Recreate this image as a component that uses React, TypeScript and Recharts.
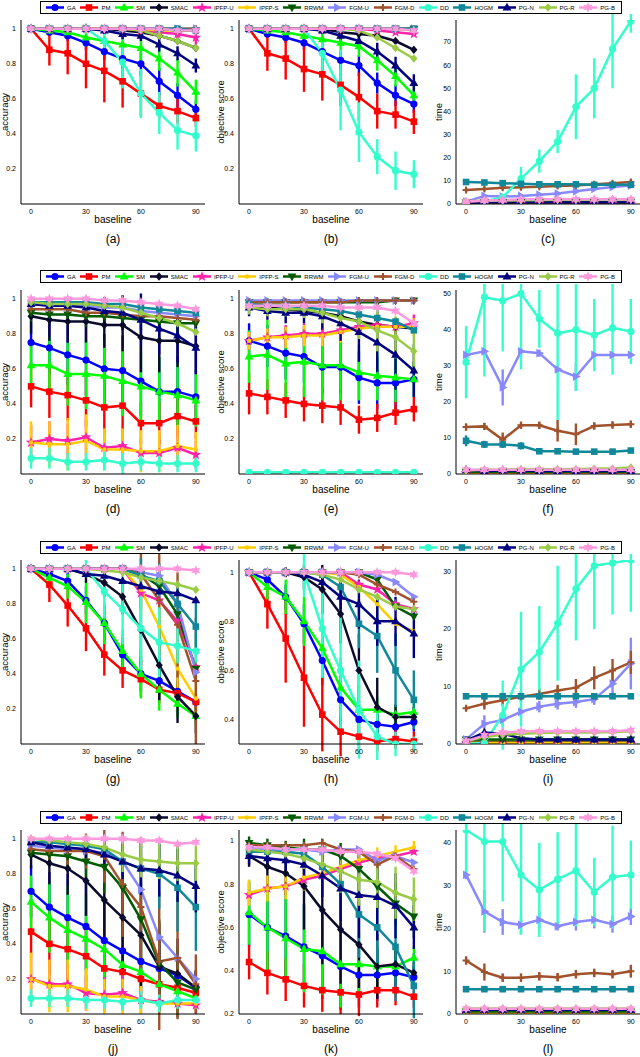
import React from 'react'
import { LineChart, Line, XAxis, YAxis, ErrorBar } from 'recharts'

// x positions shared by every panel
const X_VALUES = [0, 10, 20, 30, 40, 50, 60, 70, 80, 90]
const X_TICKS = [0, 30, 60, 90]
const ACC_TICKS = [0.2, 0.4, 0.6, 0.8, 1]
const OBJ_TICKS_H = [0.4, 0.6, 0.8, 1]
const TIME_TICKS_C = [0, 10, 20, 30, 40, 50, 60, 70]
const TIME_TICKS_F = [0, 10, 20, 30, 40, 50]
const TIME_TICKS_I = [0, 10, 20, 30]
const TIME_TICKS_L = [0, 10, 20, 30, 40]

const METHODS = ['GA', 'PM', 'SM', 'SMAC', 'IPFP-U', 'IPFP-S', 'RRWM', 'FGM-U', 'FGM-D', 'DD', 'HOGM', 'PG-N', 'PG-R', 'PG-B']

const METHOD_COLORS: Record<string, string> = {
  GA: '#0000ff',
  PM: '#ff0000',
  SM: '#00ff00',
  SMAC: '#0a0a2a',
  'IPFP-U': '#ff22aa',
  'IPFP-S': '#ffcc00',
  RRWM: '#005a00',
  'FGM-U': '#8888ff',
  'FGM-D': '#a0522d',
  DD: '#33ffcc',
  HOGM: '#118899',
  'PG-N': '#000080',
  'PG-R': '#99cc44',
  'PG-B': '#ff99dd',
}

const METHOD_MARKERS: Record<string, string> = {
  GA: 'circle',
  PM: 'square',
  SM: 'triangle',
  SMAC: 'diamond',
  'IPFP-U': 'star5',
  'IPFP-S': 'dot',
  RRWM: 'triangleDown',
  'FGM-U': 'triangleRight',
  'FGM-D': 'plus',
  DD: 'circle',
  HOGM: 'square',
  'PG-N': 'triangle',
  'PG-R': 'diamond',
  'PG-B': 'star6',
}

// (a) accuracy
const VALUES_A: Record<string, number[]> = {
  GA: [1, 0.98, 0.96, 0.92, 0.87, 0.83, 0.8, 0.7, 0.62, 0.54],
  PM: [1, 0.88, 0.86, 0.8, 0.76, 0.7, 0.63, 0.56, 0.53, 0.49],
  SM: [1, 0.99, 0.98, 0.95, 0.93, 0.91, 0.89, 0.83, 0.75, 0.64],
  SMAC: [1, 1, 1, 1, 1, 0.99, 0.98, 0.96, 0.93, 0.89],
  'IPFP-U': [1, 1, 1, 1, 1, 1, 0.99, 0.98, 0.97, 0.95],
  'IPFP-S': [1, 1, 1, 1, 1, 1, 1, 0.99, 0.99, 0.99],
  RRWM: [1, 1, 1, 1, 1, 1, 1, 1, 0.99, 0.99],
  'FGM-U': [1, 1, 1, 1, 1, 1, 1, 1, 1, 1],
  'FGM-D': [1, 1, 1, 1, 1, 1, 1, 1, 1, 1],
  DD: [1, 1, 1, 1, 0.93, 0.81, 0.63, 0.52, 0.42, 0.39],
  HOGM: [1, 1, 1, 1, 1, 1, 1, 1, 1, 0.99],
  'PG-N': [1, 1, 1, 1, 0.99, 0.97, 0.96, 0.91, 0.86, 0.79],
  'PG-R': [1, 1, 1, 1, 1, 1, 0.99, 0.96, 0.93, 0.89],
  'PG-B': [1, 1, 1, 1, 1, 1, 1, 1, 0.99, 0.99],
}
const ERRORS_A: Record<string, number[]> = {
  GA: [0, 0.02, 0.03, 0.04, 0.05, 0.06, 0.07, 0.08, 0.07, 0.05],
  PM: [0, 0.09, 0.12, 0.14, 0.18, 0.15, 0.13, 0.07, 0.07, 0.05],
  SM: [0, 0.02, 0.03, 0.05, 0.06, 0.07, 0.08, 0.07, 0.08, 0.07],
  DD: [0, 0, 0, 0.03, 0.05, 0.15, 0.14, 0.12, 0.11, 0.09],
  'PG-N': [0, 0, 0, 0.01, 0.02, 0.03, 0.03, 0.04, 0.04, 0.04],
  'IPFP-U': [0, 0, 0, 0.01, 0.02, 0.02, 0.02, 0.04, 0.04, 0.04],
}

// (b) objective score
const VALUES_B: Record<string, number[]> = {
  GA: [1, 0.97, 0.95, 0.92, 0.87, 0.82, 0.79, 0.69, 0.62, 0.57],
  PM: [1, 0.86, 0.83, 0.77, 0.74, 0.68, 0.61, 0.53, 0.51, 0.47],
  SM: [1, 0.99, 0.98, 0.96, 0.94, 0.92, 0.9, 0.82, 0.73, 0.62],
  SMAC: [1, 1, 1, 1, 1, 0.98, 0.97, 0.96, 0.93, 0.88],
  'IPFP-U': [1, 1, 1, 1, 1, 1, 1, 0.99, 0.98, 0.97],
  'IPFP-S': [1, 1, 1, 1, 1, 1, 1, 1, 1, 0.99],
  RRWM: [1, 1, 1, 1, 1, 1, 1, 1, 1, 1],
  'FGM-U': [1, 1, 1, 1, 1, 1, 1, 1, 1, 1],
  'FGM-D': [1, 1, 1, 1, 1, 1, 1, 1, 1, 1],
  DD: [1, 1, 1, 1, 0.86, 0.65, 0.41, 0.27, 0.19, 0.17],
  HOGM: [1, 1, 1, 1, 1, 1, 1, 1, 1, 1],
  'PG-N': [1, 1, 1, 1, 0.99, 0.96, 0.93, 0.87, 0.79, 0.69],
  'PG-R': [1, 1, 1, 1, 1, 1, 0.99, 0.95, 0.89, 0.83],
  'PG-B': [1, 1, 1, 1, 1, 1, 1, 1, 1, 0.99],
}
const ERRORS_B: Record<string, number[]> = {
  GA: [0, 0.02, 0.03, 0.04, 0.05, 0.05, 0.06, 0.06, 0.06, 0.05],
  PM: [0, 0.1, 0.12, 0.13, 0.15, 0.12, 0.14, 0.1, 0.08, 0.07],
  SM: [0, 0.01, 0.02, 0.03, 0.04, 0.05, 0.06, 0.06, 0.06, 0.06],
  DD: [0, 0, 0, 0.02, 0.1, 0.23, 0.17, 0.1, 0.11, 0.08],
  'PG-N': [0, 0, 0, 0.01, 0.02, 0.03, 0.04, 0.05, 0.05, 0.05],
}

// (c) time
const VALUES_C: Record<string, number[]> = {
  GA: [0.2, 0.2, 0.3, 0.3, 0.3, 0.3, 0.3, 0.3, 0.3, 0.3],
  PM: [0.1, 0.1, 0.1, 0.1, 0.1, 0.1, 0.1, 0.1, 0.1, 0.1],
  SM: [0.1, 0.1, 0.1, 0.1, 0.1, 0.1, 0.1, 0.1, 0.1, 0.1],
  SMAC: [0.4, 0.5, 0.5, 0.5, 0.6, 0.6, 0.6, 0.6, 0.6, 0.7],
  'IPFP-U': [0.2, 0.2, 0.2, 0.2, 0.2, 0.2, 0.2, 0.2, 0.2, 0.2],
  'IPFP-S': [0.3, 0.3, 0.3, 0.3, 0.3, 0.3, 0.3, 0.3, 0.3, 0.3],
  RRWM: [0.8, 0.8, 0.9, 0.9, 0.9, 0.9, 0.9, 0.9, 0.9, 1],
  'FGM-U': [1, 3.5, 3.2, 3.5, 4, 4.5, 5.5, 6.5, 7.3, 8],
  'FGM-D': [6, 6.5, 7, 7.2, 7.5, 7.8, 8, 8.5, 9, 9.5],
  DD: [0.3, 1, 3, 11, 18.5, 27, 42, 50, 67, 79],
  HOGM: [9.5, 9.3, 9, 8.7, 8.5, 8.5, 8.5, 8.3, 8.3, 8.3],
  'PG-N': [0.5, 0.6, 0.6, 0.6, 0.6, 0.6, 0.6, 0.6, 0.6, 0.6],
  'PG-R': [1.2, 1.4, 1.5, 1.6, 1.7, 1.8, 1.8, 1.9, 2, 2],
  'PG-B': [1, 1.5, 1.7, 2, 2, 2, 2, 2, 2, 2],
}
const ERRORS_C: Record<string, number[]> = {
  DD: [0.3, 0.5, 1, 5, 5, 5, 14, 13, 17, 5],
  'FGM-D': [1, 1, 1, 1, 1, 1, 1, 1, 1, 1.2],
}

// (d) accuracy
const VALUES_D: Record<string, number[]> = {
  GA: [0.75, 0.72, 0.68, 0.65, 0.6, 0.59, 0.53, 0.47, 0.47, 0.44],
  PM: [0.5, 0.47, 0.45, 0.42, 0.38, 0.39, 0.29, 0.29, 0.33, 0.3],
  SM: [0.62, 0.62, 0.57, 0.57, 0.56, 0.53, 0.5, 0.47, 0.45, 0.42],
  SMAC: [0.9, 0.88, 0.87, 0.87, 0.85, 0.85, 0.78, 0.76, 0.76, 0.73],
  'IPFP-U': [0.18, 0.2, 0.19, 0.21, 0.15, 0.16, 0.12, 0.12, 0.15, 0.11],
  'IPFP-S': [0.18, 0.17, 0.17, 0.19, 0.14, 0.14, 0.13, 0.13, 0.16, 0.14],
  RRWM: [0.92, 0.91, 0.91, 0.9, 0.9, 0.89, 0.88, 0.87, 0.86, 0.86],
  'FGM-U': [0.97, 0.96, 0.96, 0.96, 0.95, 0.95, 0.93, 0.92, 0.91, 0.9],
  'FGM-D': [0.94, 0.94, 0.94, 0.92, 0.92, 0.91, 0.9, 0.9, 0.89, 0.88],
  DD: [0.09, 0.09, 0.07, 0.07, 0.08, 0.06, 0.07, 0.06, 0.06, 0.06],
  HOGM: [0.98, 0.98, 0.98, 0.98, 0.97, 0.97, 0.95, 0.94, 0.93, 0.92],
  'PG-N': [0.97, 0.96, 0.96, 0.95, 0.93, 0.92, 0.88, 0.83, 0.79, 0.72],
  'PG-R': [0.98, 0.97, 0.97, 0.97, 0.96, 0.95, 0.92, 0.89, 0.86, 0.81],
  'PG-B': [1, 1, 1, 1, 0.99, 0.99, 0.98, 0.97, 0.96, 0.94],
}
const ERRORS_D: Record<string, number[]> = {
  GA: [0.12, 0.15, 0.17, 0.2, 0.2, 0.2, 0.2, 0.2, 0.2, 0.15],
  PM: [0.12, 0.15, 0.15, 0.15, 0.15, 0.15, 0.12, 0.12, 0.12, 0.1],
  SM: [0.13, 0.16, 0.18, 0.2, 0.2, 0.2, 0.2, 0.2, 0.18, 0.15],
  SMAC: [0.1, 0.12, 0.12, 0.12, 0.13, 0.15, 0.2, 0.18, 0.15, 0.15],
  'IPFP-U': [0.1, 0.1, 0.1, 0.1, 0.08, 0.08, 0.08, 0.08, 0.1, 0.08],
  'IPFP-S': [0.12, 0.13, 0.15, 0.15, 0.12, 0.12, 0.12, 0.12, 0.12, 0.1],
  RRWM: [0.05, 0.05, 0.05, 0.06, 0.06, 0.06, 0.06, 0.06, 0.06, 0.06],
  DD: [0.06, 0.06, 0.05, 0.05, 0.06, 0.06, 0.05, 0.05, 0.05, 0.05],
  'PG-N': [0.04, 0.05, 0.05, 0.06, 0.08, 0.1, 0.15, 0.15, 0.15, 0.15],
}

// (e) objective score
const VALUES_E: Record<string, number[]> = {
  GA: [0.76, 0.73, 0.69, 0.67, 0.61, 0.61, 0.55, 0.52, 0.52, 0.54],
  PM: [0.46, 0.44, 0.42, 0.4, 0.39, 0.38, 0.31, 0.32, 0.35, 0.37],
  SM: [0.67, 0.68, 0.63, 0.64, 0.62, 0.62, 0.58, 0.56, 0.55, 0.54],
  SMAC: [0.96, 0.95, 0.94, 0.93, 0.92, 0.9, 0.87, 0.85, 0.84, 0.83],
  'IPFP-U': [0.76, 0.78, 0.79, 0.8, 0.8, 0.82, 0.84, 0.85, 0.84, 0.86],
  'IPFP-S': [0.76, 0.78, 0.78, 0.79, 0.79, 0.81, 0.83, 0.84, 0.84, 0.84],
  RRWM: [0.98, 0.98, 0.98, 0.98, 0.98, 0.98, 0.98, 0.98, 0.99, 0.99],
  'FGM-U': [0.99, 0.99, 0.99, 0.99, 0.99, 0.99, 0.99, 0.99, 0.99, 0.99],
  'FGM-D': [0.98, 0.98, 0.98, 0.98, 0.98, 0.98, 0.99, 0.99, 0.99, 0.99],
  DD: [0.01, 0.01, 0.01, 0.01, 0.01, 0.01, 0.01, 0.01, 0.01, 0.01],
  HOGM: [0.97, 0.96, 0.96, 0.95, 0.94, 0.93, 0.91, 0.89, 0.87, 0.82],
  'PG-N': [0.95, 0.93, 0.92, 0.92, 0.9, 0.86, 0.81, 0.75, 0.68, 0.59],
  'PG-R': [0.95, 0.94, 0.94, 0.94, 0.92, 0.89, 0.87, 0.82, 0.78, 0.7],
  'PG-B': [0.96, 0.96, 0.96, 0.96, 0.96, 0.95, 0.95, 0.95, 0.93, 0.86],
}
const ERRORS_E: Record<string, number[]> = {
  GA: [0.1, 0.12, 0.15, 0.15, 0.15, 0.15, 0.15, 0.15, 0.15, 0.1],
  PM: [0.12, 0.1, 0.1, 0.1, 0.1, 0.1, 0.08, 0.08, 0.07, 0.07],
  SM: [0.15, 0.2, 0.2, 0.2, 0.2, 0.2, 0.16, 0.14, 0.14, 0.1],
  'IPFP-U': [0.05, 0.05, 0.06, 0.06, 0.06, 0.06, 0.05, 0.05, 0.05, 0.05],
  'IPFP-S': [0.05, 0.05, 0.06, 0.06, 0.06, 0.06, 0.05, 0.05, 0.05, 0.05],
  'PG-N': [0.05, 0.05, 0.06, 0.06, 0.08, 0.1, 0.17, 0.2, 0.2, 0.15],
  'PG-R': [0.04, 0.04, 0.04, 0.05, 0.06, 0.08, 0.1, 0.12, 0.12, 0.1],
}

// (f) time
const VALUES_F: Record<string, number[]> = {
  GA: [0.5, 0.5, 0.5, 0.5, 0.5, 0.5, 0.5, 0.5, 0.5, 0.5],
  PM: [0.2, 0.2, 0.2, 0.2, 0.2, 0.2, 0.2, 0.2, 0.2, 0.2],
  SM: [0.2, 0.2, 0.2, 0.2, 0.2, 0.2, 0.2, 0.2, 0.2, 0.2],
  SMAC: [0.6, 0.6, 0.6, 0.6, 0.6, 0.6, 0.6, 0.6, 0.6, 0.6],
  'IPFP-U': [0.3, 0.3, 0.3, 0.3, 0.3, 0.3, 0.3, 0.3, 0.3, 0.3],
  'IPFP-S': [0.4, 0.4, 0.4, 0.4, 0.4, 0.4, 0.4, 0.4, 0.4, 0.4],
  RRWM: [0.6, 0.6, 0.6, 0.6, 0.6, 0.6, 0.6, 0.6, 0.6, 0.6],
  'FGM-U': [33, 34, 24, 34, 33.5, 29, 27, 33, 33, 33],
  'FGM-D': [13, 13.2, 9.5, 13.5, 13.5, 12, 11, 13.3, 13.6, 13.8],
  DD: [31, 49, 48, 50, 43, 39, 40, 38.5, 40.5, 39.5],
  HOGM: [9.2, 8.2, 8.2, 7.8, 6.3, 6.3, 6.2, 6.2, 6.2, 6.5],
  'PG-N': [1.2, 0.8, 1, 1, 0.8, 0.8, 0.8, 0.8, 0.8, 0.8],
  'PG-R': [1, 1.2, 1.2, 1.3, 1.3, 1.3, 1.3, 1.5, 1.5, 1.8],
  'PG-B': [1.2, 1.2, 1.2, 1.2, 1.2, 1.2, 1.2, 1.2, 1.2, 1.2],
}
const ERRORS_F: Record<string, number[]> = {
  DD: [10, 22, 14, 21, 8, 24, 17, 10, 13, 9],
  'FGM-U': [1, 1, 5, 1, 1, 1, 4, 1, 1, 1],
  'FGM-D': [1, 1, 2, 1, 1, 3, 3, 1, 1, 1],
  HOGM: [1.5, 1, 1, 1, 0.5, 0.5, 0.5, 0.5, 0.5, 0.5],
}

// (g) accuracy
const VALUES_G: Record<string, number[]> = {
  GA: [1, 0.97, 0.93, 0.82, 0.69, 0.51, 0.4, 0.36, 0.3, 0.24],
  PM: [1, 0.91, 0.79, 0.66, 0.51, 0.42, 0.37, 0.31, 0.29, 0.24],
  SM: [1, 0.95, 0.9, 0.81, 0.69, 0.53, 0.4, 0.31, 0.23, 0.16],
  SMAC: [1, 1, 1, 0.97, 0.92, 0.84, 0.65, 0.45, 0.27, 0.16],
  'IPFP-U': [1, 1, 1, 1, 1, 1, 0.86, 0.82, 0.7, 0.44],
  'IPFP-S': [1, 1, 1, 1, 1, 1, 0.88, 0.67, 0.43, 0.26],
  RRWM: [1, 1, 1, 1, 1, 1, 0.97, 0.9, 0.74, 0.43],
  'FGM-U': [1, 1, 1, 1, 1, 1, 0.98, 0.96, 0.8, 0.41],
  'FGM-D': [1, 1, 1, 1, 1, 1, 0.97, 0.82, 0.68, 0.36],
  DD: [1, 1, 1, 1, 0.87, 0.77, 0.66, 0.58, 0.56, 0.53],
  HOGM: [1, 1, 1, 1, 1, 1, 0.96, 0.93, 0.8, 0.67],
  'PG-N': [1, 1, 1, 0.97, 0.96, 0.93, 0.9, 0.87, 0.86, 0.82],
  'PG-R': [1, 1, 1, 1, 0.99, 0.98, 0.95, 0.93, 0.91, 0.88],
  'PG-B': [1, 1, 1, 1, 1, 1, 1, 1, 1, 0.99],
}
const ERRORS_G: Record<string, number[]> = {
  GA: [0, 0.03, 0.05, 0.08, 0.1, 0.1, 0.1, 0.08, 0.06, 0.05],
  PM: [0, 0.1, 0.12, 0.13, 0.12, 0.1, 0.1, 0.08, 0.06, 0.05],
  SM: [0, 0.04, 0.07, 0.12, 0.12, 0.12, 0.14, 0.12, 0.08, 0.05],
  SMAC: [0, 0, 0, 0.05, 0.08, 0.1, 0.2, 0.2, 0.15, 0.1],
  'IPFP-S': [0, 0, 0, 0, 0, 0, 0.15, 0.15, 0.15, 0.1],
  'FGM-D': [0, 0, 0, 0, 0, 0, 0.2, 0.3, 0.3, 0.36],
  DD: [0, 0, 0, 0.05, 0.15, 0.2, 0.25, 0.2, 0.1, 0.1],
  HOGM: [0, 0, 0, 0, 0, 0, 0.1, 0.1, 0.12, 0.15],
}

// (h) objective score
const VALUES_H: Record<string, number[]> = {
  GA: [1, 0.97, 0.9, 0.79, 0.64, 0.48, 0.4, 0.38, 0.37, 0.39],
  PM: [1, 0.87, 0.73, 0.57, 0.42, 0.35, 0.33, 0.31, 0.32, 0.31],
  SM: [1, 0.94, 0.9, 0.8, 0.69, 0.53, 0.44, 0.44, 0.42, 0.43],
  SMAC: [1, 1, 1, 0.98, 0.93, 0.83, 0.6, 0.45, 0.41, 0.41],
  'IPFP-U': [1, 1, 1, 1, 1, 1, 0.95, 0.93, 0.87, 0.85],
  'IPFP-S': [1, 1, 1, 1, 1, 0.99, 0.94, 0.87, 0.79, 0.76],
  RRWM: [1, 1, 1, 1, 1, 1, 1, 0.97, 0.86, 0.82],
  'FGM-U': [1, 1, 1, 1, 1, 1, 1, 0.99, 0.96, 0.9],
  'FGM-D': [1, 1, 1, 1, 1, 1, 0.99, 0.95, 0.92, 0.88],
  DD: [1, 1, 1, 1, 0.77, 0.6, 0.44, 0.33, 0.3, 0.3],
  HOGM: [1, 1, 1, 1, 0.99, 0.94, 0.79, 0.74, 0.6, 0.48],
  'PG-N': [1, 1, 1, 0.99, 0.96, 0.9, 0.87, 0.8, 0.8, 0.75],
  'PG-R': [1, 1, 1, 1, 0.99, 0.97, 0.93, 0.9, 0.86, 0.85],
  'PG-B': [1, 1, 1, 1, 1, 1, 1, 1, 1, 0.99],
}
const ERRORS_H: Record<string, number[]> = {
  GA: [0, 0.04, 0.05, 0.08, 0.1, 0.1, 0.06, 0.04, 0.04, 0.04],
  PM: [0, 0.1, 0.18, 0.2, 0.15, 0.1, 0.05, 0.04, 0.04, 0.04],
  SM: [0, 0.05, 0.07, 0.1, 0.12, 0.12, 0.1, 0.05, 0.04, 0.04],
  SMAC: [0, 0, 0.02, 0.05, 0.1, 0.12, 0.15, 0.12, 0.05, 0.04],
  DD: [0, 0, 0, 0.1, 0.2, 0.25, 0.2, 0.1, 0.05, 0.03],
  HOGM: [0, 0, 0, 0, 0.02, 0.06, 0.1, 0.15, 0.15, 0.12],
  'PG-N': [0, 0, 0, 0.02, 0.03, 0.06, 0.1, 0.1, 0.1, 0.1],
}

// (i) time
const VALUES_I: Record<string, number[]> = {
  GA: [0.2, 0.2, 0.2, 0.2, 0.2, 0.2, 0.2, 0.2, 0.2, 0.2],
  PM: [0.1, 0.1, 0.1, 0.1, 0.1, 0.1, 0.1, 0.1, 0.1, 0.1],
  SM: [0.1, 0.1, 0.1, 0.1, 0.1, 0.1, 0.1, 0.1, 0.1, 0.1],
  SMAC: [0.4, 0.4, 0.4, 0.4, 0.4, 0.4, 0.4, 0.4, 0.4, 0.4],
  'IPFP-U': [0.1, 0.1, 0.1, 0.1, 0.1, 0.1, 0.1, 0.1, 0.1, 0.1],
  'IPFP-S': [0.2, 0.2, 0.2, 0.2, 0.2, 0.2, 0.2, 0.2, 0.2, 0.2],
  RRWM: [0.8, 0.8, 0.8, 0.8, 0.8, 0.8, 0.8, 0.8, 0.8, 0.8],
  'FGM-U': [0.8, 3.5, 4.2, 5.6, 6.5, 7, 7.3, 7.8, 10.5, 14],
  'FGM-D': [6.2, 7, 7.6, 8.2, 8.7, 9.3, 9.8, 11.5, 12.8, 14.2],
  DD: [0, 0.2, 5, 13, 16, 21, 27, 31, 31.5, 32],
  HOGM: [8.3, 8.3, 8.3, 8.3, 8.3, 8.3, 8.3, 8.3, 8.3, 8.3],
  'PG-N': [0.6, 2, 1.8, 1, 0.8, 0.8, 0.8, 0.8, 0.8, 0.8],
  'PG-R': [0.5, 1.2, 1.6, 1.8, 1.9, 2, 2, 2, 2.1, 2.2],
  'PG-B': [0.5, 1.5, 2, 2.2, 2.2, 2.2, 2.2, 2.2, 2.2, 2.4],
}
const ERRORS_I: Record<string, number[]> = {
  DD: [0, 0, 6, 10, 8, 10, 9, 11, 9, 9],
  'FGM-D': [0.5, 1, 1, 1, 1, 1, 1.5, 2, 2, 2],
  'FGM-U': [0.5, 1.5, 1, 1, 1, 1, 1, 1, 2, 4.5],
}

// (j) accuracy
const VALUES_J: Record<string, number[]> = {
  GA: [0.7, 0.61, 0.55, 0.5, 0.42, 0.36, 0.3, 0.26, 0.22, 0.15],
  PM: [0.47, 0.4, 0.37, 0.33, 0.26, 0.24, 0.2, 0.17, 0.15, 0.12],
  SM: [0.64, 0.55, 0.48, 0.43, 0.37, 0.28, 0.24, 0.17, 0.13, 0.09],
  SMAC: [0.91, 0.86, 0.83, 0.76, 0.65, 0.55, 0.45, 0.27, 0.23, 0.15],
  'IPFP-U': [0.2, 0.17, 0.17, 0.12, 0.11, 0.12, 0.08, 0.07, 0.06, 0.05],
  'IPFP-S': [0.2, 0.16, 0.16, 0.14, 0.1, 0.1, 0.08, 0.06, 0.06, 0.06],
  RRWM: [0.92, 0.91, 0.9, 0.87, 0.84, 0.72, 0.54, 0.29, 0.18, 0.14],
  'FGM-U': [0.96, 0.95, 0.94, 0.93, 0.92, 0.87, 0.71, 0.44, 0.32, 0.2],
  'FGM-D': [0.94, 0.93, 0.93, 0.93, 0.9, 0.74, 0.61, 0.3, 0.32, 0.17],
  DD: [0.09, 0.09, 0.09, 0.08, 0.08, 0.07, 0.08, 0.06, 0.08, 0.08],
  HOGM: [0.98, 0.98, 0.97, 0.96, 0.94, 0.87, 0.83, 0.8, 0.72, 0.61],
  'PG-N': [0.98, 0.96, 0.95, 0.94, 0.91, 0.87, 0.83, 0.82, 0.79, 0.73],
  'PG-R': [1, 0.99, 0.98, 0.97, 0.95, 0.91, 0.88, 0.87, 0.86, 0.86],
  'PG-B': [1, 1, 1, 1, 1, 1, 0.99, 0.99, 0.97, 0.98],
}
const ERRORS_J: Record<string, number[]> = {
  GA: [0.15, 0.2, 0.25, 0.25, 0.25, 0.25, 0.2, 0.15, 0.12, 0.1],
  PM: [0.15, 0.18, 0.2, 0.2, 0.2, 0.15, 0.12, 0.1, 0.08, 0.06],
  SM: [0.15, 0.2, 0.25, 0.25, 0.25, 0.25, 0.2, 0.15, 0.1, 0.05],
  SMAC: [0.08, 0.12, 0.15, 0.2, 0.25, 0.3, 0.3, 0.25, 0.2, 0.1],
  'IPFP-U': [0.12, 0.12, 0.12, 0.1, 0.1, 0.1, 0.08, 0.05, 0.05, 0.05],
  'IPFP-S': [0.15, 0.15, 0.15, 0.12, 0.1, 0.1, 0.08, 0.06, 0.05, 0.05],
  RRWM: [0.03, 0.05, 0.08, 0.1, 0.15, 0.25, 0.3, 0.25, 0.2, 0.1],
  'FGM-D': [0.03, 0.05, 0.08, 0.1, 0.15, 0.3, 0.4, 0.4, 0.35, 0.17],
  DD: [0.05, 0.05, 0.05, 0.05, 0.05, 0.05, 0.05, 0.05, 0.05, 0.05],
  HOGM: [0.02, 0.03, 0.03, 0.05, 0.05, 0.1, 0.15, 0.2, 0.25, 0.25],
  'PG-N': [0.03, 0.03, 0.04, 0.05, 0.06, 0.1, 0.15, 0.15, 0.15, 0.15],
  'PG-R': [0, 0.02, 0.03, 0.05, 0.05, 0.1, 0.1, 0.1, 0.1, 0.1],
}

// (k) objective score
const VALUES_K: Record<string, number[]> = {
  GA: [0.66, 0.6, 0.56, 0.51, 0.47, 0.42, 0.38, 0.38, 0.39, 0.37],
  PM: [0.44, 0.39, 0.36, 0.33, 0.31, 0.3, 0.29, 0.31, 0.31, 0.28],
  SM: [0.67, 0.6, 0.55, 0.5, 0.49, 0.43, 0.43, 0.42, 0.42, 0.46],
  SMAC: [0.93, 0.88, 0.85, 0.79, 0.68, 0.59, 0.52, 0.42, 0.43, 0.39],
  'IPFP-U': [0.75, 0.78, 0.79, 0.82, 0.84, 0.87, 0.9, 0.92, 0.93, 0.95],
  'IPFP-S': [0.76, 0.78, 0.79, 0.83, 0.85, 0.88, 0.91, 0.93, 0.95, 0.97],
  RRWM: [0.99, 0.98, 0.97, 0.96, 0.96, 0.93, 0.87, 0.79, 0.71, 0.65],
  'FGM-U': [0.97, 0.96, 0.96, 0.96, 0.95, 0.96, 0.96, 0.91, 0.93, 0.9],
  'FGM-D': [0.98, 0.98, 0.98, 0.98, 0.99, 0.96, 0.95, 0.89, 0.93, 0.87],
  DD: [0.01, 0.01, 0.01, 0.01, 0.01, 0.01, 0.01, 0.01, 0.01, 0.01],
  HOGM: [0.95, 0.95, 0.95, 0.94, 0.88, 0.8, 0.66, 0.6, 0.51, 0.33],
  'PG-N': [0.93, 0.92, 0.91, 0.89, 0.84, 0.78, 0.75, 0.74, 0.7, 0.6],
  'PG-R': [0.96, 0.95, 0.94, 0.92, 0.89, 0.86, 0.82, 0.81, 0.76, 0.73],
  'PG-B': [0.97, 0.97, 0.96, 0.96, 0.96, 0.95, 0.95, 0.94, 0.92, 0.86],
}
const ERRORS_K: Record<string, number[]> = {
  GA: [0.15, 0.2, 0.2, 0.2, 0.2, 0.2, 0.15, 0.12, 0.1, 0.05],
  PM: [0.08, 0.1, 0.1, 0.1, 0.1, 0.1, 0.1, 0.08, 0.07, 0.05],
  SM: [0.15, 0.2, 0.2, 0.2, 0.2, 0.2, 0.15, 0.1, 0.08, 0.05],
  SMAC: [0.05, 0.08, 0.1, 0.2, 0.25, 0.25, 0.2, 0.15, 0.1, 0.05],
  'IPFP-S': [0.06, 0.06, 0.06, 0.06, 0.05, 0.05, 0.04, 0.04, 0.03, 0.03],
  RRWM: [0.03, 0.03, 0.03, 0.05, 0.05, 0.06, 0.1, 0.1, 0.1, 0.1],
  HOGM: [0.02, 0.02, 0.03, 0.05, 0.1, 0.15, 0.2, 0.2, 0.25, 0.15],
  'PG-N': [0.04, 0.04, 0.05, 0.08, 0.1, 0.15, 0.2, 0.2, 0.15, 0.1],
  'PG-R': [0.02, 0.03, 0.04, 0.05, 0.06, 0.1, 0.12, 0.12, 0.12, 0.1],
}

// (l) time
const VALUES_L: Record<string, number[]> = {
  GA: [0.3, 0.3, 0.3, 0.3, 0.3, 0.3, 0.3, 0.3, 0.3, 0.3],
  PM: [0.1, 0.1, 0.1, 0.1, 0.1, 0.1, 0.1, 0.1, 0.1, 0.1],
  SM: [0.1, 0.1, 0.1, 0.1, 0.1, 0.1, 0.1, 0.1, 0.1, 0.1],
  SMAC: [0.5, 0.5, 0.5, 0.5, 0.5, 0.5, 0.5, 0.5, 0.5, 0.5],
  'IPFP-U': [0.2, 0.2, 0.2, 0.2, 0.2, 0.2, 0.2, 0.2, 0.2, 0.2],
  'IPFP-S': [0.3, 0.3, 0.3, 0.3, 0.3, 0.3, 0.3, 0.3, 0.3, 0.3],
  RRWM: [0.6, 0.6, 0.6, 0.6, 0.6, 0.6, 0.6, 0.6, 0.6, 0.6],
  'FGM-U': [32.5, 24, 21.5, 20.8, 22, 20.5, 21.5, 22, 21, 22.8],
  'FGM-D': [12.5, 9.8, 8.5, 8.5, 8.8, 8.6, 9.3, 9.6, 9.3, 10],
  DD: [43, 40.3, 40.3, 32.5, 29, 31.5, 33.5, 28.5, 32, 32.5],
  HOGM: [5.8, 5.8, 5.8, 5.8, 5.8, 5.8, 5.8, 5.8, 5.8, 5.8],
  'PG-N': [1, 1, 1, 1, 1, 1, 1, 1, 1, 1],
  'PG-R': [1.3, 1.3, 1.3, 1.3, 1.3, 1.3, 1.3, 1.3, 1.3, 1.3],
  'PG-B': [1.2, 1.2, 1.2, 1.2, 1.2, 1.2, 1.2, 1.2, 1.2, 1.2],
}
const ERRORS_L: Record<string, number[]> = {
  DD: [11, 21, 14, 14, 11, 11, 13, 8, 12, 8],
  'FGM-U': [1, 5, 3, 2, 2, 1, 2, 2, 2, 2],
  'FGM-D': [1, 2, 1, 1, 1, 1, 1, 1, 1, 1.5],
}

const PANELS = [
  { id: 'a', row: 0, col: 0, ylabel: 'accuracy', domain: [0, 1.05], ticks: ACC_TICKS, values: VALUES_A, errors: ERRORS_A },
  { id: 'b', row: 0, col: 1, ylabel: 'objective score', domain: [0, 1.05], ticks: ACC_TICKS, values: VALUES_B, errors: ERRORS_B },
  { id: 'c', row: 0, col: 2, ylabel: 'time', domain: [0, 79.5], ticks: TIME_TICKS_C, values: VALUES_C, errors: ERRORS_C },
  { id: 'd', row: 1, col: 0, ylabel: 'accuracy', domain: [0, 1.05], ticks: ACC_TICKS, values: VALUES_D, errors: ERRORS_D },
  { id: 'e', row: 1, col: 1, ylabel: 'objective score', domain: [0, 1.05], ticks: ACC_TICKS, values: VALUES_E, errors: ERRORS_E },
  { id: 'f', row: 1, col: 2, ylabel: 'time', domain: [0, 51], ticks: TIME_TICKS_F, values: VALUES_F, errors: ERRORS_F },
  { id: 'g', row: 2, col: 0, ylabel: 'accuracy', domain: [0, 1.05], ticks: ACC_TICKS, values: VALUES_G, errors: ERRORS_G },
  { id: 'h', row: 2, col: 1, ylabel: 'objective score', domain: [0.3, 1.05], ticks: OBJ_TICKS_H, values: VALUES_H, errors: ERRORS_H },
  { id: 'i', row: 2, col: 2, ylabel: 'time', domain: [0, 32], ticks: TIME_TICKS_I, values: VALUES_I, errors: ERRORS_I },
  { id: 'j', row: 3, col: 0, ylabel: 'accuracy', domain: [0, 1.05], ticks: ACC_TICKS, values: VALUES_J, errors: ERRORS_J },
  { id: 'k', row: 3, col: 1, ylabel: 'objective score', domain: [0.2, 1.05], ticks: ACC_TICKS, values: VALUES_K, errors: ERRORS_K },
  { id: 'l', row: 3, col: 2, ylabel: 'time', domain: [0, 43], ticks: TIME_TICKS_L, values: VALUES_L, errors: ERRORS_L },
]

// layout
const FONT = '"Liberation Sans", Arial, Helvetica, sans-serif'
const PLOT_W = 184
const PLOT_H = 184
const COL_LEFT = [21, 239, 456]
const ROW_TOP = [20, 290, 560, 830]
const LEGEND_TOP = [1, 270, 541, 811]
const YLABEL_X = [4.5, 221, 439]
const Y_AXIS_W = 20
const X_AXIS_H = 16
const M_TOP = 6
const M_RIGHT = 4

function starPoints(cx: number, cy: number, n: number, ro: number, ri: number) {
  const pts: string[] = []
  for (let k = 0; k < 2 * n; k++) {
    const r = k % 2 === 0 ? ro : ri
    const a = -Math.PI / 2 + (k * Math.PI) / n
    pts.push(`${cx + r * Math.cos(a)},${cy + r * Math.sin(a)}`)
  }
  return pts.join(' ')
}

function Marker({ cx, cy, shape, color }: { cx: number; cy: number; shape: string; color: string }) {
  switch (shape) {
    case 'circle':
      return <circle cx={cx} cy={cy} r={3.6} fill={color} />
    case 'dot':
      return <circle cx={cx} cy={cy} r={2.2} fill={color} />
    case 'square':
      return <rect x={cx - 3.3} y={cy - 3.3} width={6.6} height={6.6} fill={color} />
    case 'triangle':
      return <polygon points={`${cx},${cy - 4.8} ${cx + 4.4},${cy + 3} ${cx - 4.4},${cy + 3}`} fill={color} />
    case 'triangleDown':
      return <polygon points={`${cx},${cy + 4.8} ${cx + 4.4},${cy - 3} ${cx - 4.4},${cy - 3}`} fill={color} />
    case 'triangleRight':
      return <polygon points={`${cx + 4.8},${cy} ${cx - 3},${cy - 4.4} ${cx - 3},${cy + 4.4}`} fill={color} />
    case 'diamond':
      return <polygon points={`${cx},${cy - 4.2} ${cx + 3.6},${cy} ${cx},${cy + 4.2} ${cx - 3.6},${cy}`} fill={color} />
    case 'plus':
      return <path d={`M${cx - 3.5},${cy}H${cx + 3.5}M${cx},${cy - 3.5}V${cy + 3.5}`} stroke={color} strokeWidth={2} />
    case 'star5':
      return <polygon points={starPoints(cx, cy, 5, 5.5, 2.3)} fill={color} />
    case 'star6':
      return <polygon points={starPoints(cx, cy, 6, 5.2, 2.6)} fill={color} />
    default:
      return <circle cx={cx} cy={cy} r={3} fill={color} />
  }
}

function makeDot(method: string, panelId: string) {
  return (props: any) => {
    const key = `${panelId}-${method}-${props.index}`
    if (props.cx == null || props.cy == null) return <g key={key} />
    return <Marker key={key} cx={props.cx} cy={props.cy} shape={METHOD_MARKERS[method]} color={METHOD_COLORS[method]} />
  }
}

function Panel({ p }: { p: any }) {
  const rows = X_VALUES.map((x, i) => {
    const row: Record<string, number> = { x }
    METHODS.forEach((m) => {
      row[m] = p.values[m][i]
      if (p.errors[m]) row['e_' + m] = p.errors[m][i]
    })
    return row
  })
  const plotLeft = COL_LEFT[p.col]
  const plotTop = ROW_TOP[p.row]
  const centerX = plotLeft + PLOT_W / 2
  const tickStyle = { fontSize: 7, fill: '#000', fontFamily: FONT }

  return (
    <>
      <div style={{ position: 'absolute', left: plotLeft - Y_AXIS_W, top: plotTop - M_TOP }}>
        <LineChart
          width={Y_AXIS_W + PLOT_W + M_RIGHT}
          height={M_TOP + PLOT_H + X_AXIS_H}
          data={rows}
          margin={{ top: M_TOP, right: M_RIGHT, bottom: 0, left: 0 }}
        >
          <XAxis
            type="number"
            dataKey="x"
            domain={[-5.5, 95]}
            ticks={X_TICKS}
            height={X_AXIS_H}
            tickLine={false}
            tickSize={3}
            tickMargin={2}
            axisLine={{ stroke: '#000' }}
            tick={tickStyle}
            allowDataOverflow
          />
          <YAxis
            type="number"
            domain={p.domain}
            ticks={p.ticks}
            width={Y_AXIS_W}
            tickLine={false}
            tickSize={3}
            tickMargin={2}
            axisLine={{ stroke: '#000' }}
            tick={tickStyle}
            tickFormatter={(v: number) => String(v)}
            allowDataOverflow
          />
          {METHODS.map((m) => (
            <Line
              key={m}
              type="linear"
              dataKey={m}
              stroke={METHOD_COLORS[m]}
              strokeWidth={2.5}
              dot={makeDot(m, p.id)}
              activeDot={false}
              isAnimationActive={false}
            >
              {p.errors[m] ? (
                <ErrorBar dataKey={'e_' + m} width={0} strokeWidth={2.4} stroke={METHOD_COLORS[m]} direction="y" />
              ) : null}
            </Line>
          ))}
        </LineChart>
      </div>
      <div
        style={{
          position: 'absolute',
          left: YLABEL_X[p.col] - 60,
          top: plotTop + PLOT_H / 2 - 5,
          width: 120,
          textAlign: 'center',
          fontSize: 9.5,
          lineHeight: '10px',
          transform: 'rotate(-90deg)',
        }}
      >
        {p.ylabel}
      </div>
      <div
        style={{ position: 'absolute', left: centerX - 40, top: plotTop + 193, width: 80, textAlign: 'center', fontSize: 10, lineHeight: '14px' }}
      >
        baseline
      </div>
      <div
        style={{ position: 'absolute', left: centerX - 20, top: plotTop + 212, width: 40, textAlign: 'center', fontSize: 12, lineHeight: '14px' }}
      >
        ({p.id})
      </div>
    </>
  )
}

function Legend({ top }: { top: number }) {
  return (
    <div
      style={{
        position: 'absolute',
        left: 40,
        top,
        width: 582,
        height: 13,
        border: '1px solid #000',
        boxSizing: 'border-box',
        background: '#fff',
        display: 'flex',
        alignItems: 'center',
        justifyContent: 'space-between',
        padding: '0 6px 0 4px',
      }}
    >
      {METHODS.map((m) => (
        <div key={m} style={{ display: 'flex', alignItems: 'center' }}>
          <svg width={20} height={11}>
            <line x1={1} y1={5.5} x2={19} y2={5.5} stroke={METHOD_COLORS[m]} strokeWidth={2.5} />
            <Marker cx={10} cy={5.5} shape={METHOD_MARKERS[m]} color={METHOD_COLORS[m]} />
          </svg>
          <span style={{ fontSize: 6, marginLeft: 2, lineHeight: '8px' }}>{m}</span>
        </div>
      ))}
    </div>
  )
}

export default function App() {
  return (
    <div
      style={{
        position: 'absolute',
        left: 0,
        top: 0,
        width: 640,
        height: 1057,
        overflow: 'hidden',
        background: '#fff',
        fontFamily: FONT,
        color: '#000',
      }}
    >
      {PANELS.map((p) => (
        <Panel key={p.id} p={p} />
      ))}
      {LEGEND_TOP.map((t, i) => (
        <Legend key={i} top={t} />
      ))}
    </div>
  )
}
